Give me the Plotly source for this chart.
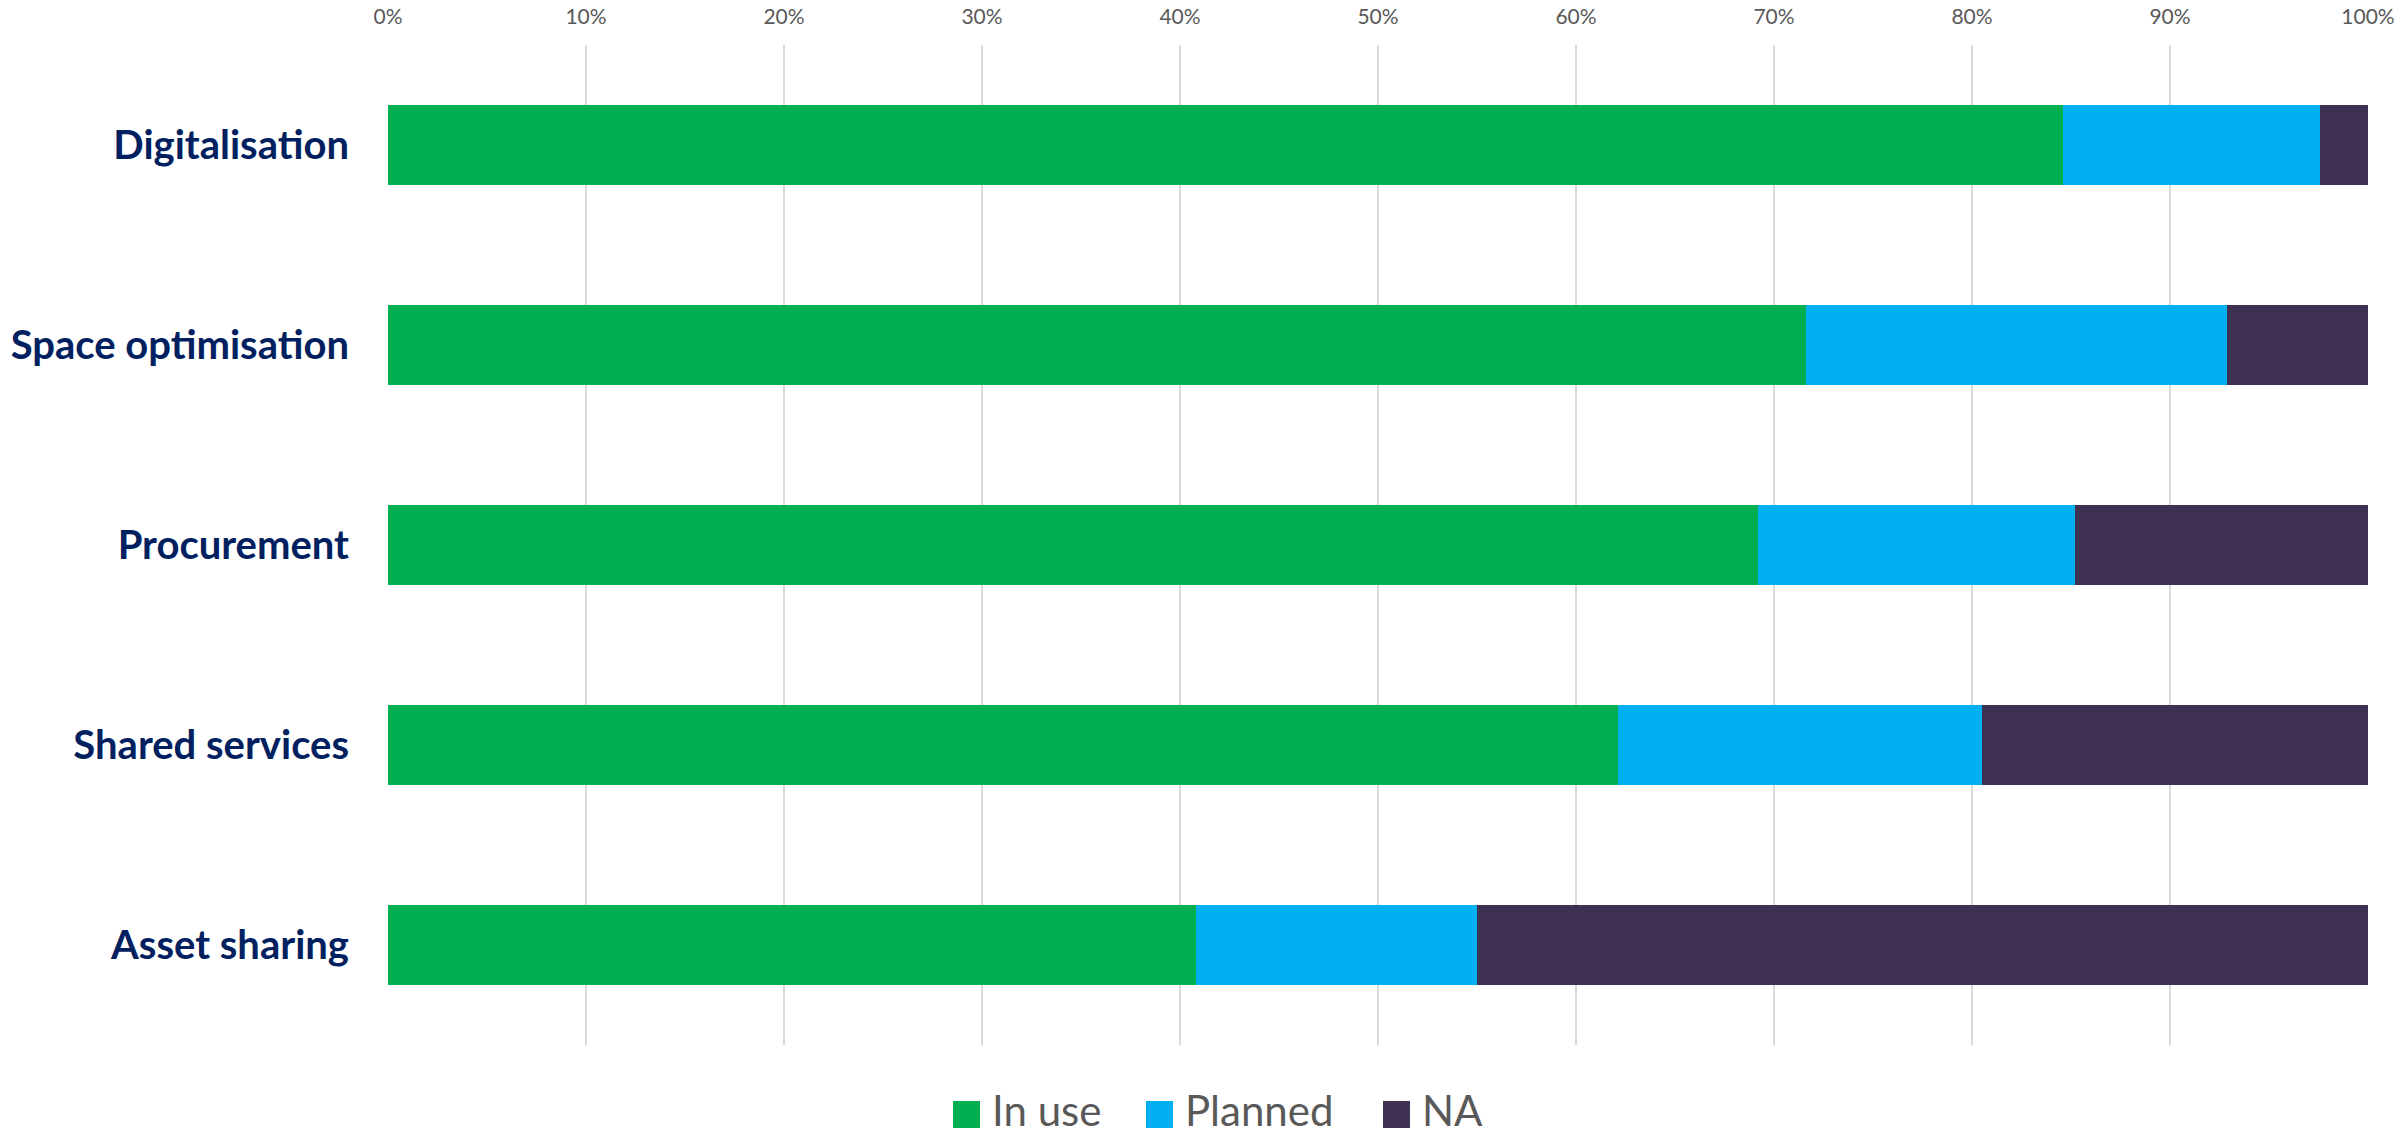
import plotly.graph_objects as go

# Adoption of efficiency measures (% of respondents)
categories = ["Digitalisation", "Space optimisation", "Procurement", "Shared services", "Asset sharing"]
in_use = [84.6, 71.6, 69.2, 62.1, 40.8]
planned = [13.0, 21.3, 16.0, 18.4, 14.2]
na = [2.4, 7.1, 14.8, 19.5, 45.0]

series_names = ["In use", "Planned", "NA"]
series_values = [in_use, planned, na]
series_colors = ["#00B050", "#00B0F0", "#3F3151"]

tick_values = [0, 10, 20, 30, 40, 50, 60, 70, 80, 90, 100]
tick_labels = ["0%", "10%", "20%", "30%", "40%", "50%", "60%", "70%", "80%", "90%", "100%"]

W, H = 2397, 1140
M_L, M_R, M_T, M_B = 388, 29, 45, 95
plot_w = W - M_L - M_R
plot_h = H - M_T - M_B


def px_to_paper_x(px):
    return (px - M_L) / plot_w


def px_to_paper_y(py):
    return (H - M_B - py) / plot_h


fig = go.Figure()
for name, vals, col in zip(series_names, series_values, series_colors):
    fig.add_trace(go.Bar(
        y=categories, x=vals, name=name, orientation="h",
        marker=dict(color=col, line=dict(width=0)),
        width=0.4, showlegend=False,
    ))

# Legend row below the plot: a coloured square followed by its label
legend_square_left = [953, 1146, 1383]   # pixel x of each square
square_size = 27
legend_top = 1101
legend_mid = 1110
for left, name, col in zip(legend_square_left, series_names, series_colors):
    fig.add_shape(
        type="rect", xref="paper", yref="paper",
        x0=px_to_paper_x(left), x1=px_to_paper_x(left + square_size),
        y0=px_to_paper_y(legend_top), y1=px_to_paper_y(legend_top + square_size),
        fillcolor=col, line=dict(width=0),
    )
    fig.add_annotation(
        text=name, xref="paper", yref="paper",
        x=px_to_paper_x(left + square_size + 11), y=px_to_paper_y(legend_mid),
        xanchor="left", yanchor="middle", showarrow=False, borderpad=0,
        font=dict(family="Lato", size=42, color="#595959"),
    )

fig.update_layout(
    width=W, height=H,
    margin=dict(l=M_L, r=M_R, t=M_T, b=M_B),
    barmode="stack",
    paper_bgcolor="white", plot_bgcolor="white",
    showlegend=False,
)
fig.update_xaxes(
    side="top", range=[0, 100], tickvals=tick_values, ticktext=tick_labels,
    showgrid=True, gridcolor="#D9D9D9", gridwidth=2,
    zeroline=False, showline=False, ticks="", automargin=False,
    ticklabelstandoff=16,
    tickfont=dict(family="Lato", size=21, color="#595959"),
)
fig.update_yaxes(
    autorange="reversed", showgrid=False, zeroline=False, showline=False,
    ticks="", ticklabelstandoff=38, automargin=False,
    tickfont=dict(family="Lato", size=40, color="#002060", weight="bold"),
)

fig.write_html("out.html")
